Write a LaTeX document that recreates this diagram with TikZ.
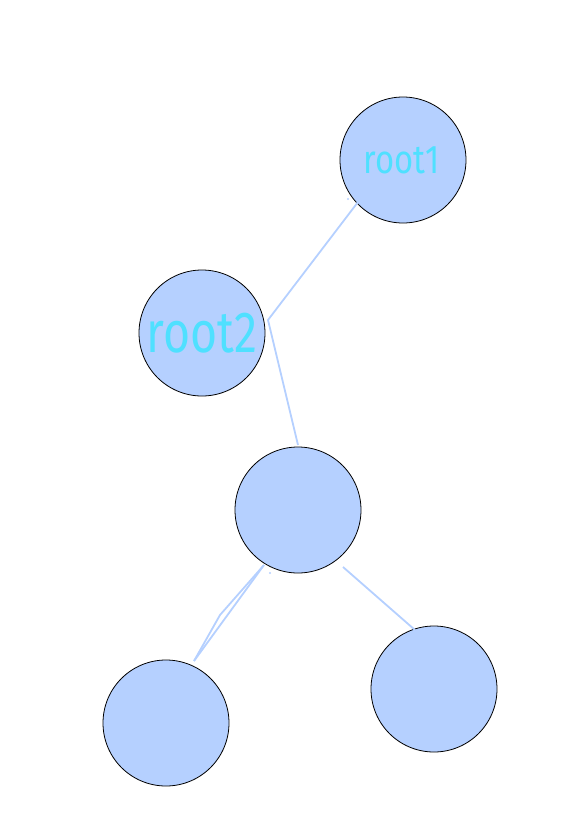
\documentclass[tikz,border=0pt]{standalone}
\usepackage{fontspec}
\setmainfont{Fira Sans}
\definecolor{nodefill}{HTML}{B5D0FF}
\definecolor{edgecol}{HTML}{B5D0FF}
\definecolor{txtcol}{HTML}{4FE0FF}
\begin{document}
\begin{tikzpicture}[x=1pt,y=-1pt,
  vert/.style={circle,draw=black,line width=0.8pt,fill=nodefill,minimum size=126pt,inner sep=0pt},
  edge/.style={draw=edgecol,line width=1.8pt},
  lbl/.style={text=txtcol,inner sep=0pt}]
\useasboundingbox (0,0) rectangle (577,823);
\node[vert] (r1) at (403,160) {};
\node[vert] (r2) at (202,333) {};
\node[vert] (m) at (298,510) {};
\node[vert] (bl) at (166,723) {};
\node[vert] (br) at (434,689) {};
\node[lbl,font=\fontsize{40}{40}\selectfont] (t1) at (401.5,160) {\scalebox{0.82}[1]{root1}};
\node[lbl,font=\fontsize{58}{58}\selectfont] (t2) at (r2.center) {\scalebox{0.8}[1]{root2}};
\coordinate (e1a) at (358,202);
\coordinate (k) at (268,320);
\coordinate (e2b) at (298,445);
\coordinate (e3a) at (264,565);
\coordinate (e3k) at (220,615);
\coordinate (e3b) at (194,661);
\coordinate (e4a) at (343,567);
\coordinate (e4b) at (415,630);
\draw[edge] (e1a) -- (k) -- (e2b);
\draw[edge] (e3a) -- (e3k) -- (e3b);
\draw[edge] (e3a) -- (e3b);
\draw[edge] (e4a) -- (e4b);
\fill[edgecol] (348,199) circle (1.2pt);
\fill[edgecol] (270,573) circle (1.2pt);
\end{tikzpicture}
\end{document}
